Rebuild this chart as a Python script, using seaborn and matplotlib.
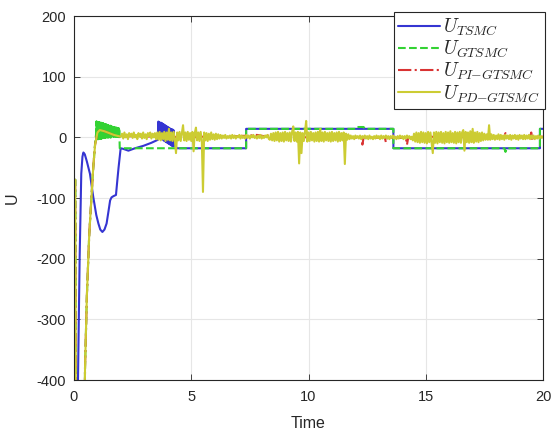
import numpy as np
import matplotlib
matplotlib.use('Agg')
import matplotlib.pyplot as plt
import seaborn as sns

# --- values ---
# U_TSMC (blue)
tsmc_t = [0.0, 0.12, 0.17, 0.24, 0.31, 0.36, 0.40, 0.46, 0.55, 0.68, 0.82, 0.95, 1.04, 1.12,
          1.21, 1.30, 1.39, 1.47, 1.54, 1.60, 1.68, 1.79, 1.85, 1.90, 1.99, 2.10, 2.32, 2.60,
          2.96, 3.30, 3.58]
tsmc_u = [-700, -700, -400, -200, -60, -32, -25, -28, -40, -60, -98, -128, -142, -152,
          -156, -152, -142, -122, -104, -99, -97, -95, -70, -50, -18, -19, -22, -18,
          -14, -9, -4]
# fast chattering between t = 3.6 and 4.25 (upper / lower peaks)
tsmc_osc_top = [26, 25, 24, 24, 23, 22, 21, 20, 19, 18, 17, 16, 15, 14, 13, 13, 12]
tsmc_osc_bot = [1, 0, -1, -2, -3, -5, -6, -7, -8, -9, -10, -11, -12, -13, -14, -15]
tsmc_tail_t = [4.30, 4.40, 7.34, 7.34, 13.62, 13.62, 19.87, 19.87, 20.0]
tsmc_tail_u = [-14, -18, -18, 14, 14, -18, -18, 14, 14]

# U_GTSMC (green)
gtsmc_t = [0.0, 0.06, 0.10, 0.40, 0.47, 0.55, 0.65, 0.75, 0.82, 0.90, 0.94]
gtsmc_u = [-70, -70, -700, -700, -380, -260, -160, -95, -50, -10, 5]
gtsmc_band_top = [26, 26, 26, 26, 25, 25, 25, 25, 24, 24, 24, 24, 23, 23, 23, 23, 22, 22,
                  22, 22, 21, 21, 21, 21, 20, 20, 20, 20, 19, 19, 19, 19, 18, 18, 18, 18,
                  17, 17, 17, 17, 16, 16, 16, 16, 15, 15, 15, 15, 15, 15]
gtsmc_band_bot = [-3, -3, -3, -3, -3, -2, -2, -2, -2, -2, -2, -2, -1, -1, -1, -1, -1, -1,
                  -1, -1, 0, 0, 0, 0, 0, 0, 0, 0, 0, 0, 0, 0, 1, 1, 1, 1,
                  1, 1, 1, 1, 1, 1, 1, 1, 1, 1, 1, 1, 1, 1]
gtsmc_tail_t = [1.95, 7.34, 7.34, 12.00, 12.05, 12.35, 12.40, 13.62, 13.62, 18.35, 18.40,
                18.45, 19.87, 19.87, 20.0]
gtsmc_tail_u = [-18, -18, 14, 14, 17, 17, 14, 14, -18, -18, -24, -18, -18, 14, 14]

# early transient shared by U_PI-GTSMC and U_PD-GTSMC
early_t = [0.0, 0.05, 0.10, 0.40, 0.47, 0.55, 0.65, 0.75, 0.82, 0.90, 1.00, 1.10, 1.30,
           1.50, 1.70, 1.90]
early_u = [-70, -70, -700, -700, -380, -260, -160, -95, -50, -12, 8, 12, 10, 7, 4, 2]

# U_PI-GTSMC (red), after t = 2
pi_t = [2.0, 2.5, 3.0, 3.5, 4.0, 4.5, 5.0, 5.5, 6.0, 6.5, 7.0, 7.5, 7.8, 8.1, 8.4, 8.8,
        9.3, 9.8, 10.3, 10.8, 11.3, 11.8, 12.25, 12.3, 12.35, 12.8, 13.25, 13.3, 13.35,
        13.8, 14.15, 14.2, 14.25, 14.7, 15.2, 15.7, 16.2, 16.7, 17.2, 17.7, 18.35, 18.4,
        18.45, 18.9, 19.45, 19.5, 19.55, 19.6, 20.0]
pi_u = [1, 2, 1, 2, 0, 1, 0, 1, 2, 1, 2, 3, 4, 2, 3, 1,
        2, 0, 1, 0, 1, 0, -1, -12, 0, -1, 0, -8, 0,
        -1, -1, -12, -1, 0, 1, 0, 1, 0, 1, 0, 1, 7,
        1, 0, 1, 8, -6, 1, 1]

# U_PD-GTSMC (yellow), sampled every 0.05 from t = 2 to 20
pd_noise_u = [
    # t 2.00 - 3.50
    1, 6, -2, 8, 0, 5, -3, 7, 2, 6, -1, 8, 0, 4, -3, 7, 1, 6, -2, 8,
    -1, 5, -3, 7, 2, 8, -2, 6, 0, 7, -3,
    # t 3.55 - 6.20
    8, -4, 9, -5, 7, -3, 9, -6, 8, -4, 14, -5, 8, -6, 9, -4, -26, 8, -5, 9,
    -6, 7, 20, -5, 8, -6, 9, -4, 7, -6, 9, -23, 7, 16, -5, 8, -6, 9, -4, -90,
    8, -5, 7, -6, 6, -4, 8, -3, 5, -4, 6, -3, 5, -2,
    # t 6.25 - 8.30
    4, -2, 3, -1, 4, -2, 2, -1, 3, -2, 4, -1, 3, -2, 2, 0, 4, -2, 3, -1,
    2, -2, 4, -1, 3, -2, 3, 0, 4, -1, 2, -2, 3, -1, 4, -2, 2, -1, 3, 0,
    4, -2,
    # t 8.35 - 11.75
    -4, 6, -5, 7, -6, 8, -5, 9, -7, 7, -6, 8, -7, 9, -5, 7, -6, 8, -7, 9,
    18, -6, 8, -7, 9, -43, 8, -26, 7, -6, 9, 27, -7, 8, -6, 9, -5, 7, -7, 8,
    -6, 9, -7, 14, -6, 8, -7, 9, -5, 7, -6, 8, -7, 9, -6, 7, -5, 8, -7, 9,
    -6, 7, -5, 8, -44, 6, -4, 5, -3,
    # t 11.80 - 14.40
    3, -2, 2, -3, 3, -1, 2, -2, 3, -3, 2, -1, 3, -2, 2, -3, 3, -2, 1, -3,
    2, -2, 3, -1, 2, -3, 3, -2, 2, -1, 3, -2, 2, -3, 2, -1, 3, -2, 1, -3,
    2, -2, 3, -1, 2, -3, 2, -2, 3, -1, 2, -3, 1,
    # t 14.45 - 17.55
    -5, 6, -7, 8, -8, 7, -9, 9, -8, 8, -9, 7, -10, 9, -8, 8, -9, -26, 8, -9,
    9, -10, 8, -8, 9, -9, 7, -10, 9, -8, 8, -9, 10, -8, 7, -9, 9, -10, 8, -8,
    9, -9, 8, 12, -22, 9, -8, 8, -9, 10, -8, 14, -9, 8, -7, 9, -8, 7, -6, 8,
    -5, 6, -4,
    # t 17.60 - 20.00
    5, -4, 20, -4, 5, -3, 4, -4, 3, -3, 5, -4, 4, -3, 3, -4, 4, -2, 3, -3,
    4, -4, 3, -2, 4, -3, 3, -4, 4, -2, 3, -3, 4, -3, 3, -2, 4, -3, 3, -2,
    3, -3, 2, -2, 3, -2, 2, -1, 1,
]

labels = [r'$U_{TSMC}$', r'$U_{GTSMC}$', r'$U_{PI{-}GTSMC}$', r'$U_{PD{-}GTSMC}$']
colors = ['#3535d2', '#33d233', '#d93333', '#cccc33']

# --- assemble series ---
osc_u = [v for pair in zip(tsmc_osc_top, tsmc_osc_bot) for v in pair] + tsmc_osc_top[len(tsmc_osc_bot):]
osc_t = np.round(3.60 + 0.02 * np.arange(len(osc_u)), 3)
band_u = [v for pair in zip(gtsmc_band_top, gtsmc_band_bot) for v in pair]
band_t = np.round(0.95 + 0.01 * np.arange(len(band_u)), 3)
noise_t = np.round(2.0 + 0.05 * np.arange(len(pd_noise_u)), 3)

blue_t = np.concatenate([tsmc_t, osc_t, tsmc_tail_t])
blue_u = np.concatenate([tsmc_u, osc_u, tsmc_tail_u])
green_t = np.concatenate([gtsmc_t, band_t, gtsmc_tail_t])
green_u = np.concatenate([gtsmc_u, band_u, gtsmc_tail_u])
red_t = np.concatenate([early_t, pi_t])
red_u = np.concatenate([early_u, pi_u])
yel_t = np.concatenate([early_t, noise_t])
yel_u = np.concatenate([early_u, pd_noise_u])

# --- style ---
sns.set_theme(style='whitegrid')
plt.rcParams['font.family'] = ['Liberation Sans', 'DejaVu Sans']
plt.rcParams['mathtext.fontset'] = 'cm'
plt.rcParams['axes.unicode_minus'] = False

fig = plt.figure(figsize=(5.53, 4.34), dpi=100)
ax = fig.add_axes([74 / 553, 1 - 380 / 434, (543 - 74) / 553, (380 - 16) / 434])
ax.set_facecolor('white')

common = dict(ax=ax, estimator=None, sort=False, lw=1.5)
sns.lineplot(x=blue_t, y=blue_u, color=colors[0], label=labels[0], **common)
sns.lineplot(x=green_t, y=green_u, color=colors[1], label=labels[1], linestyle='--', **common)
sns.lineplot(x=red_t, y=red_u, color=colors[2], label=labels[2], linestyle='-.', **common)
sns.lineplot(x=yel_t, y=yel_u, color=colors[3], label=labels[3], **common)

ax.set_xlim(0, 20)
ax.set_ylim(-400, 200)
ax.set_xticks([0, 5, 10, 15, 20])
ax.set_yticks([-400, -300, -200, -100, 0, 100, 200])
ax.grid(True, color='#e6e6e6', lw=0.8)
for s in ax.spines.values():
    s.set_color('#262626')
    s.set_linewidth(0.8)
ax.tick_params(direction='in', length=4, width=0.6, colors='#262626', labelsize=10.5,
               top=True, right=True, bottom=True, left=True)
ax.tick_params(axis='x', pad=7.5)
ax.tick_params(axis='y', pad=5.5)
ax.set_xlabel('Time', fontsize=11.5, color='#262626', labelpad=8)
ax.set_ylabel('U', fontsize=11.5, color='#262626', labelpad=12)

leg = ax.legend(loc='upper right', bbox_to_anchor=(544.5 / 553, 1 - 11.5 / 434),
                bbox_transform=fig.transFigure, borderaxespad=0, fontsize=14,
                frameon=True, fancybox=False, framealpha=1, edgecolor='#262626',
                handlelength=2.15, handletextpad=0.15, labelspacing=0.05, borderpad=0.25)
leg.get_frame().set_linewidth(0.8)

fig.savefig('out.png', dpi=100)
